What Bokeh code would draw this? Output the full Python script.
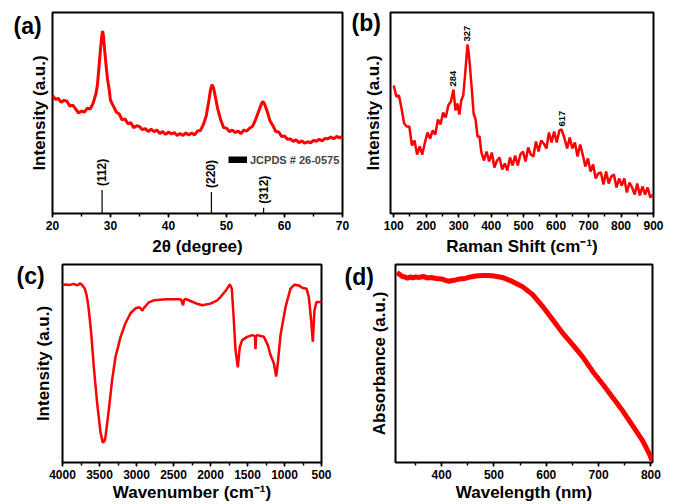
import math
from bokeh.plotting import figure
from bokeh.layouts import row, column
from bokeh.models import (Range1d, SingleIntervalTicker, FixedTicker,
                          Legend, LegendItem)
from bokeh.embed import file_html
from bokeh.resources import INLINE
from bokeh.core.properties import value

FONT = "Liberation Sans"
RED = "#ff0000"

# ---------------- (a) XRD ----------------
xrd_2theta = [20.0, 20.5, 21.0, 21.5, 22.0, 22.5, 23.0, 23.5, 24.0, 24.5, 25.0, 25.5,
              26.0, 26.5, 27.0, 27.5, 27.75, 28.0, 28.25, 28.5, 28.65, 28.8, 29.0,
              29.25, 29.5, 29.75, 30.0, 30.5, 31.0, 31.5, 32.0, 32.5, 33.0, 33.5,
              34.0, 34.5, 35.0, 35.5, 36.0, 36.5, 37.0, 37.5, 38.0, 38.5, 39.0,
              39.5, 40.0, 40.5, 41.0, 41.5, 42.0, 42.5, 43.0, 43.5, 44.0, 44.5,
              45.0, 45.5, 46.0, 46.5, 47.0, 47.25, 47.5, 47.75, 48.0, 48.5, 49.0,
              49.5, 50.0, 50.5, 51.0, 51.5, 52.0, 52.5, 53.0, 53.5, 54.0, 54.5,
              55.0, 55.5, 56.0, 56.25, 56.5, 57.0, 57.5, 58.0, 58.5, 59.0, 59.5,
              60.0, 60.5, 61.0, 61.5, 62.0, 62.5, 63.0, 63.5, 64.0, 64.5, 65.0,
              65.5, 66.0, 66.5, 67.0, 67.5, 68.0, 68.5, 69.0, 69.5, 70.0]
xrd_intensity = [121, 117, 118, 114, 116, 115, 110, 111, 107, 103, 105, 104,
                 108, 107, 113, 123, 132, 149, 167, 182, 187, 181, 167,
                 151, 137, 128, 116, 110, 104, 102, 96, 97, 92, 93,
                 88, 90, 89, 86, 87, 84, 86.5, 84, 85.5, 82, 84,
                 81, 83.5, 81.5, 83, 80, 82, 80, 82.5, 80.5, 82.5, 80.5,
                 84.5, 85, 91, 100, 117, 127, 132, 129, 122, 107, 96,
                 88, 87.5, 84, 85.5, 83, 84.5, 82, 85.5, 84.5, 87.5, 89.5,
                 96, 104, 112, 115, 113, 105, 95, 90, 84, 83.5, 79,
                 79.5, 76, 76.5, 74, 75.5, 72.5, 74.5, 72, 73.5, 72.5, 75,
                 74, 76, 74.5, 77, 76.5, 78.5, 76.5, 79, 77.5, 79]
jcpds_2theta = [28.55, 47.4, 56.4]
jcpds_height = [24, 22, 6]
jcpds_hkl = ["(112)", "(220)", "(312)"]

# ---------------- (b) Raman ----------------
raman_shift = [100, 108, 116, 124, 132, 140, 148, 156, 164, 172, 180, 188, 196, 204,
               212, 220, 228, 236, 244, 252, 260, 268, 276, 284, 290, 296, 302, 308,
               314, 320, 324, 327, 330, 334, 340, 346, 352, 358, 364, 370, 378, 386,
               394, 402, 410, 418, 426, 434, 442, 450, 458, 466, 474, 482, 490, 498,
               506, 514, 522, 530, 538, 546, 554, 562, 570, 578, 586, 594, 602, 610,
               617, 626, 634, 642, 650, 658, 666, 674, 682, 690, 698, 706, 714, 722,
               730, 738, 746, 754, 762, 770, 778, 786, 794, 802, 810, 818, 826, 834,
               842, 850, 858, 866, 874, 882, 890, 898]
raman_intensity = [128, 117, 118, 105, 90, 87, 87, 68, 73, 59, 67, 59, 71, 81,
                   75, 83, 79, 94, 89, 101, 96, 108, 112, 124, 103, 110, 99, 113,
                   118, 140, 156, 169, 163, 150, 126, 100, 94, 77, 77, 61, 53, 62,
                   52, 61, 46, 53, 56, 44, 50, 43, 56, 48, 58, 48, 59, 62,
                   52, 66, 59, 57, 72, 62, 73, 70, 65, 81, 71, 82, 71, 83,
                   84, 75, 65, 76, 65, 71, 57, 69, 59, 47, 55, 42, 49, 35,
                   40, 41, 29, 42, 30, 37, 39, 26, 35, 28, 35, 21, 31, 26,
                   19, 30, 18, 27, 19, 26, 16, 19]
raman_peaks = [284, 327, 617]
raman_peak_text = ["284", "327", "617"]

# ---------------- (c) FTIR ----------------
ftir_wavenumber = [4000, 3950, 3900, 3850, 3800, 3760, 3730, 3700, 3680, 3660, 3644,
                   3612, 3577, 3532, 3486, 3455, 3430, 3419, 3374, 3329, 3284, 3216,
                   3149, 3081, 3014, 2960, 2935, 2920, 2905, 2880, 2833, 2766, 2600,
                   2400, 2370, 2360, 2340, 2270, 2180, 2112, 2000, 1910, 1865, 1797,
                   1739, 1712, 1685, 1662, 1631, 1604, 1572, 1505, 1437, 1400, 1392,
                   1384, 1369, 1279, 1225, 1189, 1144, 1112, 1086, 1054, 986, 919,
                   865, 806, 761, 703, 671, 640, 617, 595, 568, 500]
ftir_intensity = [178.7, 179, 178.5, 179.5, 178, 180, 178, 175, 170, 162, 153,
                  130, 96, 60, 30, 20, 22, 26, 53, 83, 106, 126,
                  140, 150, 155, 156, 154, 152.5, 155, 157, 161, 163, 164,
                  164, 158, 163, 164.5, 162.3, 159.5, 158, 159.7, 163, 166.3, 172.3,
                  179, 174.7, 143, 113, 95.7, 116.3, 123, 126.3, 128, 127, 114,
                  127, 128, 126.3, 118, 108, 99.7, 86.3, 103, 128, 156.3, 174.7,
                  178.7, 178, 175.7, 174.7, 166.3, 143, 121.3, 153, 161.3, 161.3]

# ---------------- (d) UV-vis ----------------
uv_wavelength = [315, 320, 325, 330, 335, 340, 345, 350, 358, 365, 372, 380, 390, 400,
                 408, 415, 420, 427, 435, 445, 455, 465, 478, 490, 500, 516, 535, 554,
                 574, 593, 612, 631, 650, 670, 688, 708, 727, 746, 765, 784, 797, 802]
uv_absorbance = [191, 189, 187, 186.5, 185, 186.5, 185.5, 186.5, 186, 187, 185.5, 186,
                 185, 184.5, 183, 182, 183, 183.5, 184.5, 185, 186.5, 187.5, 188, 188,
                 187.5, 186, 182, 177, 168.7, 157, 143.7, 130.3, 118.7, 106, 92,
                 78.7, 65.3, 52, 37, 22, 8.7, 2]


def make_fig(width, height, xr, yr, borders):
    left, right, top, bottom = borders
    p = figure(width=width, height=height, x_range=xr, y_range=yr,
               output_backend="svg", toolbar_location=None,
               min_border_left=left, min_border_right=right,
               min_border_top=top, min_border_bottom=bottom)
    p.outline_line_color = "black"
    p.outline_line_width = 2
    p.outline_line_alpha = 1
    p.grid.visible = False
    return p


def style_axes(p, ticker, xlabel, ylabel, ystand, xlabel_stand):
    xa = p.xaxis[0]
    xa.ticker = ticker
    xa.axis_label = xlabel
    xa.axis_line_color = None
    xa.major_tick_in = 0
    xa.major_tick_out = 4
    xa.minor_tick_in = 0
    xa.minor_tick_out = 3
    xa.major_tick_line_width = 1.5
    xa.minor_tick_line_width = 1.5
    xa.major_tick_line_color = "black"
    xa.minor_tick_line_color = "black"
    xa.major_label_text_font = FONT
    xa.major_label_text_font_style = "bold"
    xa.major_label_text_font_size = "12px"
    xa.major_label_text_color = "black"
    xa.major_label_standoff = 3
    xa.axis_label_text_font = FONT
    xa.axis_label_text_font_style = "bold"
    xa.axis_label_text_font_size = "17px"
    xa.axis_label_text_color = "black"
    xa.axis_label_standoff = xlabel_stand

    ya = p.yaxis[0]
    ya.ticker = FixedTicker(ticks=[])
    ya.axis_line_color = None
    ya.major_tick_in = 0
    ya.major_tick_out = 0
    ya.minor_tick_in = 0
    ya.minor_tick_out = 0
    ya.major_label_text_font_size = "0px"
    ya.major_label_standoff = 0
    ya.axis_label = ylabel
    ya.axis_label_text_font = FONT
    ya.axis_label_text_font_style = "bold"
    ya.axis_label_text_font_size = "17px"
    ya.axis_label_text_color = "black"
    ya.axis_label_standoff = ystand


def panel_label(p, text, offset, standoff):
    t = p.title
    t.text = text
    t.align = "left"
    t.vertical_align = "bottom"
    t.offset = offset
    t.standoff = standoff
    t.text_font = FONT
    t.text_font_style = "bold"
    t.text_font_size = "23px"
    t.text_color = "black"


# ----- (a) -----
pa = make_fig(350, 262, Range1d(20, 70), Range1d(0, 206), (52, 8, 11, 45))
style_axes(pa, SingleIntervalTicker(interval=10, num_minor_ticks=2),
           "2θ (degree)", "Intensity (a.u.)", 4, 4)
pa.line(xrd_2theta, xrd_intensity, line_color=RED, line_width=3)
pa.segment(x0=jcpds_2theta, y0=[0, 0, 0], x1=jcpds_2theta, y1=jcpds_height,
           line_color="black", line_width=1.2)
pa.text(x=jcpds_2theta, y=jcpds_height, text=jcpds_hkl, angle=math.pi / 2,
        text_align="left", text_baseline="middle", y_offset=-4,
        text_font=value(FONT), text_font_style="bold", text_font_size="12px",
        text_color="black")
jc = pa.line(x=jcpds_2theta[:1], y=[0], line_color="black", line_width=7)
leg = Legend(items=[LegendItem(label="JCPDS # 26-0575", renderers=[jc])],
             location=(176, 47), glyph_width=19, glyph_height=7, label_standoff=3,
             padding=0, margin=0, spacing=0, border_line_color=None,
             background_fill_alpha=0, label_text_font=FONT,
             label_text_font_style="bold", label_text_font_size="11px",
             label_height=13)
pa.add_layout(leg)
panel_label(pa, "(a)", -39, -53)

# ----- (b) -----
pb = make_fig(323, 262, Range1d(90, 900), Range1d(0, 201), (40, 20, 12, 49))
style_axes(pb, SingleIntervalTicker(interval=100, num_minor_ticks=2),
           "Raman Shift (cm⁻¹)", "Intensity (a.u.)", 8, 4)
pb.line(raman_shift, raman_intensity, line_color=RED, line_width=2.5)
peak_y = [raman_intensity[raman_shift.index(v)] for v in raman_peaks]
pb.text(x=raman_peaks, y=peak_y, text=raman_peak_text, angle=math.pi / 2,
        text_align="left", text_baseline="middle", y_offset=-3,
        text_font=value(FONT), text_font_style="bold", text_font_size="9.5px",
        text_color="black")
panel_label(pb, "(b)", -39, -47)

# ----- (c) -----
pc = make_fig(344, 242, Range1d(4000, 500), Range1d(0, 199), (62, 23, 2, 41))
style_axes(pc, SingleIntervalTicker(interval=500, num_minor_ticks=2),
           "Wavenumber (cm⁻¹)", "Intensity (a.u.)", 10, 1)
pc.line(ftir_wavenumber, ftir_intensity, line_color=RED, line_width=2.5)
panel_label(pc, "(c)", -46, -48)

# ----- (d) -----
pd_ = make_fig(329, 242, Range1d(312, 803), Range1d(0, 199), (51, 21, 1, 42))
style_axes(pd_, SingleIntervalTicker(interval=100, num_minor_ticks=2),
           "Wavelength (nm)", "Absorbance (a.u.)", 7, 1)
pd_.line(uv_wavelength, uv_absorbance, line_color=RED, line_width=5)
panel_label(pd_, "(d)", -51, -50)

layout = column(row(pa, pb), row(pc, pd_))
open("out.html", "w").write(file_html(layout, INLINE))
